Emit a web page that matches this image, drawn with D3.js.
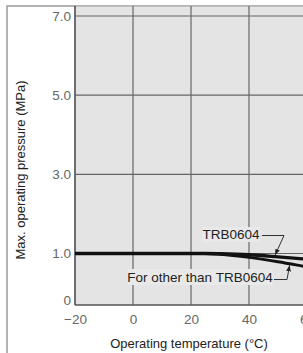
<!DOCTYPE html>
<html>
<head>
<meta charset="utf-8">
<script src="https://cdn.jsdelivr.net/npm/d3@7"></script>
<style>
	body { margin: 0; background: #fff; }
	svg { display: block; font-family: "Liberation Sans", Arial, sans-serif; }
</style>
</head>
<body>
<svg id="chart" width="303" height="353"></svg>
<script>
// chart data
let xTicks = [-20, 0, 20, 40, 60];
let yTicks = [0, 1.0, 3.0, 5.0, 7.0];
let yGrid = [1.0, 3.0, 5.0, 7.0];

let tempTrb = [-20, 25, 30, 40, 50, 60, 65];
let pressTrb = [1.0, 1.0, 0.995, 0.975, 0.935, 0.89, 0.865];

let tempOther = [-20, 25, 30, 40, 50, 60, 65];
let pressOther = [1.0, 1.0, 0.985, 0.925, 0.84, 0.74, 0.69];

let trb = tempTrb.map((t, i) => ({ t: t, p: pressTrb[i] }));
let other = tempOther.map((t, i) => ({ t: t, p: pressOther[i] }));

let svg = d3.select('#chart');

let plotLeft = 75;
let plotRight = 307;
let plotTop = 6;
let plotBottom = 305;

let x = d3.scaleLinear()
	.domain([-20, 60])
	.range([plotLeft, plotRight]);

// the y axis is broken: 0..1 is stretched compared to 1..7
let y = d3.scaleLinear()
	.domain([0, 1, 7])
	.range([plotBottom, 253.5, 16]);

// outer frame
svg.append('rect')
	.attr('x', 7)
	.attr('y', 6)
	.attr('width', 400)
	.attr('height', 400)
	.attr('fill', '#fff')
	.attr('stroke', '#8a8a8a')
	.attr('stroke-width', 1.3);

// plot background
svg.append('rect')
	.attr('x', plotLeft)
	.attr('y', plotTop + 0.7)
	.attr('width', 300)
	.attr('height', plotBottom - plotTop - 0.7)
	.attr('fill', '#e4e4e4');

// grid
svg.append('g')
	.selectAll('line')
	.data(xTicks)
	.enter()
	.append('line')
	.attr('x1', d => x(d))
	.attr('x2', d => x(d))
	.attr('y1', plotTop)
	.attr('y2', plotBottom)
	.attr('stroke', '#666')
	.attr('stroke-width', 1.2);

svg.append('g')
	.selectAll('line')
	.data(yGrid)
	.enter()
	.append('line')
	.attr('x1', plotLeft)
	.attr('x2', 303)
	.attr('y1', d => y(d))
	.attr('y2', d => y(d))
	.attr('stroke', '#666')
	.attr('stroke-width', 1.2);

// axes lines
svg.append('line')
	.attr('x1', plotLeft).attr('x2', 303)
	.attr('y1', plotBottom).attr('y2', plotBottom)
	.attr('stroke', '#555').attr('stroke-width', 1.3);

svg.append('line')
	.attr('x1', plotLeft).attr('x2', plotLeft)
	.attr('y1', plotTop).attr('y2', plotBottom)
	.attr('stroke', '#555').attr('stroke-width', 1.3);

// tick labels
let xAxis = d3.axisBottom(x)
	.tickValues(xTicks)
	.tickSize(0)
	.tickPadding(9)
	.tickFormat(d => d < 0 ? '\u2212' + Math.abs(d) : d);

let gx = svg.append('g')
	.attr('transform', 'translate(0, ' + plotBottom + ')')
	.call(xAxis);

let yAxis = d3.axisLeft(y)
	.tickValues(yTicks)
	.tickSize(0)
	.tickPadding(4)
	.tickFormat(d => d == 0 ? '0' : d3.format('.1f')(d));

let gy = svg.append('g')
	.attr('transform', 'translate(' + plotLeft + ', 0)')
	.call(yAxis);

[gx, gy].forEach(g => {
	g.select('.domain').remove();
	g.selectAll('text')
		.attr('fill', '#666')
		.style('font-size', '13.5px')
		.style('font-family', '"Liberation Sans", Arial, sans-serif');
});

gy.selectAll('.tick')
	.filter(d => d == 0)
	.select('text')
	.attr('dy', '-0.05em');

// label boxes (hide the grid behind the text)
svg.append('rect')
	.attr('x', 202).attr('y', 227)
	.attr('width', 58).attr('height', 15)
	.attr('fill', '#e9e9e9');

svg.append('rect')
	.attr('x', 128).attr('y', 269)
	.attr('width', 145).attr('height', 16)
	.attr('fill', '#e9e9e9');

// curves
let line = d3.line()
	.x(d => x(d.t))
	.y(d => y(d.p))
	.curve(d3.curveMonotoneX);

svg.append('path')
	.datum(other)
	.attr('fill', 'none')
	.attr('stroke', '#111')
	.attr('stroke-width', 3)
	.attr('d', line);

svg.append('path')
	.datum(trb)
	.attr('fill', 'none')
	.attr('stroke', '#111')
	.attr('stroke-width', 3.4)
	.attr('d', line);

// leaders
svg.append('defs')
	.append('marker')
	.attr('id', 'arrow')
	.attr('viewBox', '0 0 10 10')
	.attr('refX', 10)
	.attr('refY', 5)
	.attr('markerWidth', 6)
	.attr('markerHeight', 6)
	.attr('orient', 'auto')
	.append('path')
	.attr('d', 'M0,1 L10,5 L0,9 Z')
	.attr('fill', '#222');

let trbTip = [x(49), y(0.94) - 1.5];
svg.append('path')
	.attr('d', 'M262,235.5 L284,235.5 L' + trbTip[0] + ',' + trbTip[1])
	.attr('fill', 'none')
	.attr('stroke', '#333')
	.attr('stroke-width', 1)
	.attr('marker-end', 'url(#arrow)');

let otherTip = [x(54), y(0.8) + 1.5];
svg.append('path')
	.attr('d', 'M274,279.5 L287,279.5 L' + otherTip[0] + ',' + otherTip[1])
	.attr('fill', 'none')
	.attr('stroke', '#333')
	.attr('stroke-width', 1)
	.attr('marker-end', 'url(#arrow)');

svg.append('text')
	.attr('x', 231)
	.attr('y', 239)
	.attr('text-anchor', 'middle')
	.attr('fill', '#222')
	.style('font-size', '13.5px')
	.text('TRB0604');

svg.append('text')
	.attr('x', 200)
	.attr('y', 282)
	.attr('text-anchor', 'middle')
	.attr('fill', '#222')
	.style('font-size', '13.5px')
	.text('For other than TRB0604');

// axis titles
svg.append('text')
	.attr('x', 189)
	.attr('y', 348)
	.attr('text-anchor', 'middle')
	.attr('fill', '#222')
	.style('font-size', '13px')
	.text('Operating temperature (\u00B0C)');

svg.append('text')
	.attr('transform', 'translate(25, 170) rotate(-90)')
	.attr('text-anchor', 'middle')
	.attr('fill', '#222')
	.style('font-size', '13px')
	.text('Max. operating pressure (MPa)');
</script>
</body>
</html>
